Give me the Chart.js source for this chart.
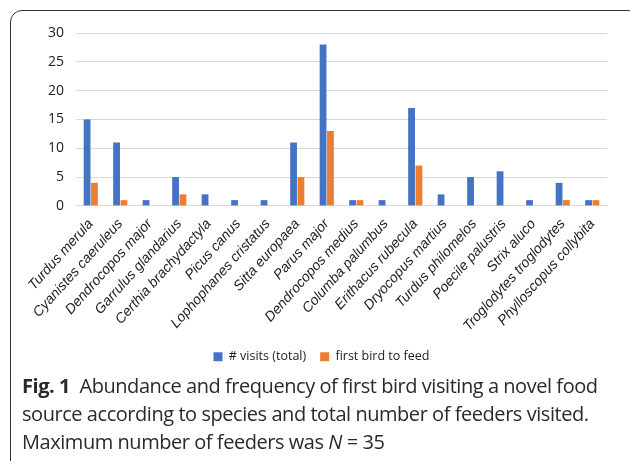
<!DOCTYPE html>
<html>
<head>
<meta charset="utf-8">
<script src="https://cdn.jsdelivr.net/npm/chart.js@4/dist/chart.umd.min.js"></script>
<style>
  html, body { margin: 0; padding: 0; background: #fff; }
  body { width: 630px; height: 461px; position: relative; overflow: hidden; }
  .frame {
    position: absolute; left: 10px; top: 10px; width: 630px; height: 470px;
    border: 1.3px solid #333; border-radius: 12px; box-sizing: border-box;
  }
  .chart-box { position: absolute; left: 0; top: 0; width: 630px; height: 377px; }
  .caption {
    position: absolute; left: 22px; top: 372px; width: 606px;
    font-family: "Open Sans", "Noto Sans", sans-serif; font-size: 20px;
    line-height: 28px; color: #2a2a2a; letter-spacing: -0.45px;
  }
  .caption b { font-weight: 700; }
</style>
</head>
<body>
<div class="frame"></div>
<div class="chart-box"><canvas id="myChart"></canvas></div>
<div class="caption"><b>Fig. 1</b>&nbsp; Abundance and frequency of first bird visiting a novel food source according to species and total number of feeders visited. Maximum number of feeders was <i>N</i>&nbsp;=&nbsp;35</div>
<script>
// 物種名稱
const species = [
  "Turdus merula", "Cyanistes caeruleus", "Dendrocopos major", "Garrulus glandarius",
  "Certhia brachydactyla", "Picus canus", "Lophophanes cristatus", "Sitta europaea",
  "Parus major", "Dendrocopos medius", "Columba palumbus", "Erithacus rubecula",
  "Dryocopus martius", "Turdus philomelos", "Poecile palustris", "Strix aluco",
  "Troglodytes troglodytes", "Phylloscopus collybita"
];
const totalVisits = [15, 11, 1, 5, 2, 1, 1, 11, 28, 1, 1, 17, 2, 5, 6, 1, 4, 1];
const firstToFeed = [4, 1, 0, 2, 0, 0, 0, 5, 13, 1, 0, 7, 0, 0, 0, 0, 1, 1];
const yTicks = [0, 5, 10, 15, 20, 25, 30];

const ctx = document.querySelector("#myChart").getContext("2d");

new Chart(ctx, {
  type: "bar",
  data: {
    labels: species,
    datasets: [
      {
        label: "# visits (total)",
        data: totalVisits,
        backgroundColor: "#4472C4",
        categoryPercentage: 0.5,
        barPercentage: 0.92,
      },
      {
        label: "first bird to feed",
        data: firstToFeed,
        backgroundColor: "#ED7D31",
        categoryPercentage: 0.5,
        barPercentage: 0.92,
      },
    ],
  },
  options: {
    responsive: true,
    maintainAspectRatio: false,
    animation: false,
    layout: { padding: { left: 36, right: 23, top: 33, bottom: 4 } },
    plugins: {
      legend: {
        display: true,
        position: "bottom",
        labels: {
          font: { family: "'Open Sans', sans-serif", size: 12.5 },
          color: "#222",
          boxWidth: 9,
          boxHeight: 9,
          padding: 14,
        },
      },
      tooltip: { enabled: false },
    },
    scales: {
      x: {
        grid: { display: false },
        border: { display: false },
        ticks: {
          minRotation: 48,
          maxRotation: 48,
          autoSkip: false,
          color: "#222",
          font: { family: "'Liberation Sans', Arial, sans-serif", size: 14, style: "italic" },
          padding: 2,
        },
      },
      y: {
        min: 0,
        max: 30,
        afterBuildTicks: (axis) => {
          axis.ticks = yTicks.map((v) => ({ value: v }));
        },
        grid: { color: "#d9d9d9", lineWidth: 1, drawTicks: false },
        border: { display: false },
        ticks: {
          color: "#222",
          font: { family: "'Open Sans', sans-serif", size: 14 },
          padding: 12,
        },
      },
    },
  },
});
</script>
</body>
</html>
